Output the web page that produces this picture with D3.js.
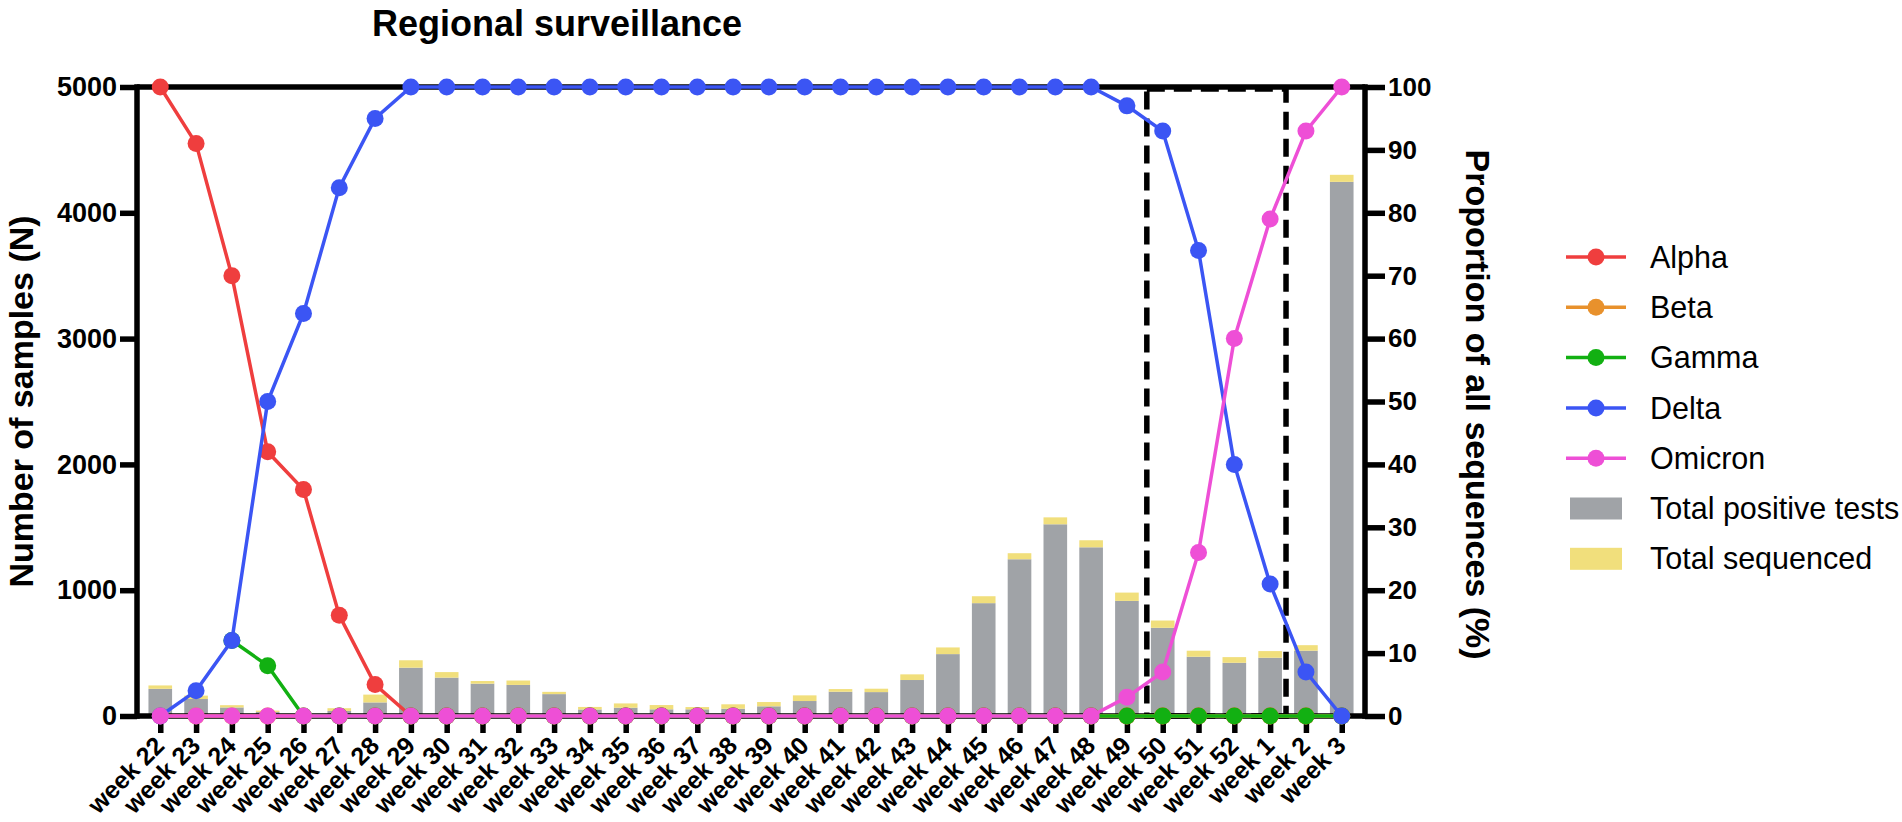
<!DOCTYPE html>
<html>
<head>
<meta charset="utf-8">
<script src="https://cdn.jsdelivr.net/npm/d3@7"></script>
<style>
  html, body { margin: 0; padding: 0; background: #ffffff; }
  svg { display: block; font-family: "Liberation Sans", Arial, Helvetica, sans-serif; }
</style>
</head>
<body>
<svg id="chart" width="1902" height="822"></svg>
<script>
// ---------------- data ----------------
const weeks = ["week 22","week 23","week 24","week 25","week 26","week 27","week 28","week 29","week 30","week 31",
  "week 32","week 33","week 34","week 35","week 36","week 37","week 38","week 39","week 40","week 41",
  "week 42","week 43","week 44","week 45","week 46","week 47","week 48","week 49","week 50","week 51",
  "week 52","week 1","week 2","week 3"];

const positiveTests = [216,135,68,32,10,40,108,384,305,257,247,174,52,66,53,53,58,77,119,193,
  190,286,492,897,1246,1524,1341,915,701,471,423,463,519,4246];
const sequenced = [27,27,18,11,5,22,62,59,44,21,35,18,20,34,34,18,35,34,45,21,
  27,45,53,55,48,55,56,66,58,48,45,53,44,56];

const alpha   = [100,91,70,42,36,16,5,0,0,0,0,0,0,0,0,0,0,0,0,0,0,0,0,0,0,0,0,0,0,0,0,0,0,0];
const beta    = [0,0,0,0,0,0,0,0,0,0,0,0,0,0,0,0,0,0,0,0,0,0,0,0,0,0,0,0,0,0,0,0,0,0];
const gamma   = [null,null,12,8,0,0,0,0,0,0,0,0,0,0,0,0,0,0,0,0,0,0,0,0,0,0,0,0,0,0,0,0,0,0];
const delta   = [0,4,12,50,64,84,95,100,100,100,100,100,100,100,100,100,100,100,100,100,100,100,100,100,100,100,100,97,93,74,40,21,7,0];
const omicron = [0,0,0,0,0,0,0,0,0,0,0,0,0,0,0,0,0,0,0,0,0,0,0,0,0,0,0,3,7,26,60,79,93,100];

const seriesNames = ["Alpha","Beta","Gamma","Delta","Omicron"];
const seriesValues = [alpha, beta, gamma, delta, omicron];
const seriesColors = ["#EF3E3E","#E8912C","#12B012","#3B55F4","#EE4FD6"];
const barNames = ["Total positive tests","Total sequenced"];
const barColors = ["#A0A3A7","#F1DF7C"];

const leftTicks = [0,1000,2000,3000,4000,5000];
const rightTicks = [0,10,20,30,40,50,60,70,80,90,100];
const highlightFrom = ["week 49","week 50"];
const highlightTo = ["week 1","week 2"];

// ---------------- layout ----------------
const plotL = 137, plotR = 1365, plotT = 87, plotB = 716;
const axisW = 5.5;

const svg = d3.select("#chart");

const x = d3.scalePoint().domain(weeks).range([plotL, plotR]).padding(0.65);
const step = x.step();
const barW = step * 0.66;
const yL = d3.scaleLinear().domain([0, 5000]).range([plotB, plotT]);
const yR = d3.scaleLinear().domain([0, 100]).range([plotB, plotT]);

// title
svg.append("text")
  .attr("x", 557).attr("y", 36)
  .attr("text-anchor", "middle")
  .attr("font-size", 36).attr("font-weight", "bold")
  .text("Regional surveillance");

// bars (stacked: positive tests then sequenced on top)
const barG = svg.append("g");
weeks.forEach((w, i) => {
  const p = positiveTests[i], s = sequenced[i];
  barG.append("rect")
    .attr("x", x(w) - barW / 2).attr("width", barW)
    .attr("y", yL(p)).attr("height", yL(0) - yL(p))
    .attr("fill", barColors[0]);
  barG.append("rect")
    .attr("x", x(w) - barW / 2).attr("width", barW)
    .attr("y", yL(p + s)).attr("height", yL(p) - yL(p + s))
    .attr("fill", barColors[1]);
});

// axes frame
const axG = svg.append("g").attr("stroke", "#000").attr("stroke-width", axisW).attr("fill", "none");
axG.append("line").attr("x1", plotL).attr("x2", plotL).attr("y1", plotT - axisW/2).attr("y2", plotB + axisW/2);
axG.append("line").attr("x1", plotR).attr("x2", plotR).attr("y1", plotT - axisW/2).attr("y2", plotB + axisW/2);
axG.append("line").attr("x1", plotL).attr("x2", plotR).attr("y1", plotT).attr("y2", plotT);
axG.append("line").attr("x1", plotL).attr("x2", plotR).attr("y1", plotB).attr("y2", plotB);

// left axis
const leftAxis = d3.axisLeft(yL).tickValues(leftTicks).tickSize(17).tickPadding(3).tickFormat(d3.format("d"));
const gl = svg.append("g").attr("transform", `translate(${plotL},0)`).call(leftAxis);
gl.select(".domain").remove();
gl.selectAll(".tick line").attr("stroke", "#000").attr("stroke-width", axisW);
gl.selectAll(".tick text").attr("font-size", 27).attr("font-weight", "bold").attr("fill", "#000")
  .attr("font-family", "Liberation Sans, Arial, sans-serif");

// right axis
const rightAxis = d3.axisRight(yR).tickValues(rightTicks).tickSize(20).tickPadding(3);
const gr = svg.append("g").attr("transform", `translate(${plotR},0)`).call(rightAxis);
gr.select(".domain").remove();
gr.selectAll(".tick line").attr("stroke", "#000").attr("stroke-width", axisW);
gr.selectAll(".tick text").attr("font-size", 26).attr("font-weight", "bold").attr("fill", "#000")
  .attr("font-family", "Liberation Sans, Arial, sans-serif");

// bottom axis
const bottomAxis = d3.axisBottom(x).tickSize(17).tickPadding(0);
const gb = svg.append("g").attr("transform", `translate(0,${plotB})`).call(bottomAxis);
gb.select(".domain").remove();
gb.selectAll(".tick line").attr("stroke", "#000").attr("stroke-width", axisW);
gb.selectAll(".tick text")
  .attr("font-size", 25).attr("font-weight", "bold").attr("fill", "#000")
  .attr("font-family", "Liberation Sans, Arial, sans-serif")
  .attr("text-anchor", "end")
  .attr("y", 0).attr("dy", "0.35em")
  .attr("transform", "translate(-1,25) rotate(-45)");

// axis titles
svg.append("text")
  .attr("transform", `translate(33,${(plotT + plotB) / 2}) rotate(-90)`)
  .attr("text-anchor", "middle").attr("font-size", 34).attr("font-weight", "bold")
  .text("Number of samples (N)");
svg.append("text")
  .attr("transform", `translate(1466,${(plotT + plotB) / 2 + 3}) rotate(90)`)
  .attr("text-anchor", "middle").attr("font-size", 34).attr("font-weight", "bold")
  .text("Proportion of all sequences (%)");

// dashed highlight box
const bx1 = (x(highlightFrom[0]) + x(highlightFrom[1])) / 2 + 2;
const bx2 = (x(highlightTo[0]) + x(highlightTo[1])) / 2 - 2;
svg.append("rect")
  .attr("x", bx1).attr("y", plotT + 2)
  .attr("width", bx2 - bx1).attr("height", plotB - plotT - 2)
  .attr("fill", "none").attr("stroke", "#000").attr("stroke-width", 5.5)
  .attr("stroke-dasharray", "18,9");

// series lines
const line = d3.line()
  .defined(d => d.v != null)
  .x(d => x(d.w)).y(d => yR(d.v));
seriesValues.forEach((vals, k) => {
  const pts = weeks.map((w, i) => ({ w, v: vals[i] }));
  const g = svg.append("g");
  g.append("path").datum(pts)
    .attr("d", line).attr("fill", "none")
    .attr("stroke", seriesColors[k]).attr("stroke-width", 3.5);
  g.selectAll("circle").data(pts.filter(d => d.v != null)).enter().append("circle")
    .attr("cx", d => x(d.w)).attr("cy", d => yR(d.v)).attr("r", 8.5)
    .attr("fill", seriesColors[k]);
});

// legend
const legX = 1596, legTextX = 1650, legY0 = 257, legDy = 50.3;
const lg = svg.append("g");
seriesNames.forEach((name, k) => {
  const yy = legY0 + k * legDy;
  lg.append("line").attr("x1", legX - 30).attr("x2", legX + 30).attr("y1", yy).attr("y2", yy)
    .attr("stroke", seriesColors[k]).attr("stroke-width", 3.5);
  lg.append("circle").attr("cx", legX).attr("cy", yy).attr("r", 8.5).attr("fill", seriesColors[k]);
  lg.append("text").attr("x", legTextX).attr("y", yy).attr("dy", "0.35em")
    .attr("font-size", 30.5).text(name);
});
barNames.forEach((name, k) => {
  const yy = legY0 + (seriesNames.length + k) * legDy;
  lg.append("rect").attr("x", legX - 26).attr("y", yy - 11).attr("width", 52).attr("height", 22)
    .attr("fill", barColors[k]);
  lg.append("text").attr("x", legTextX).attr("y", yy).attr("dy", "0.35em")
    .attr("font-size", 30.5).text(name);
});
</script>
</body>
</html>
